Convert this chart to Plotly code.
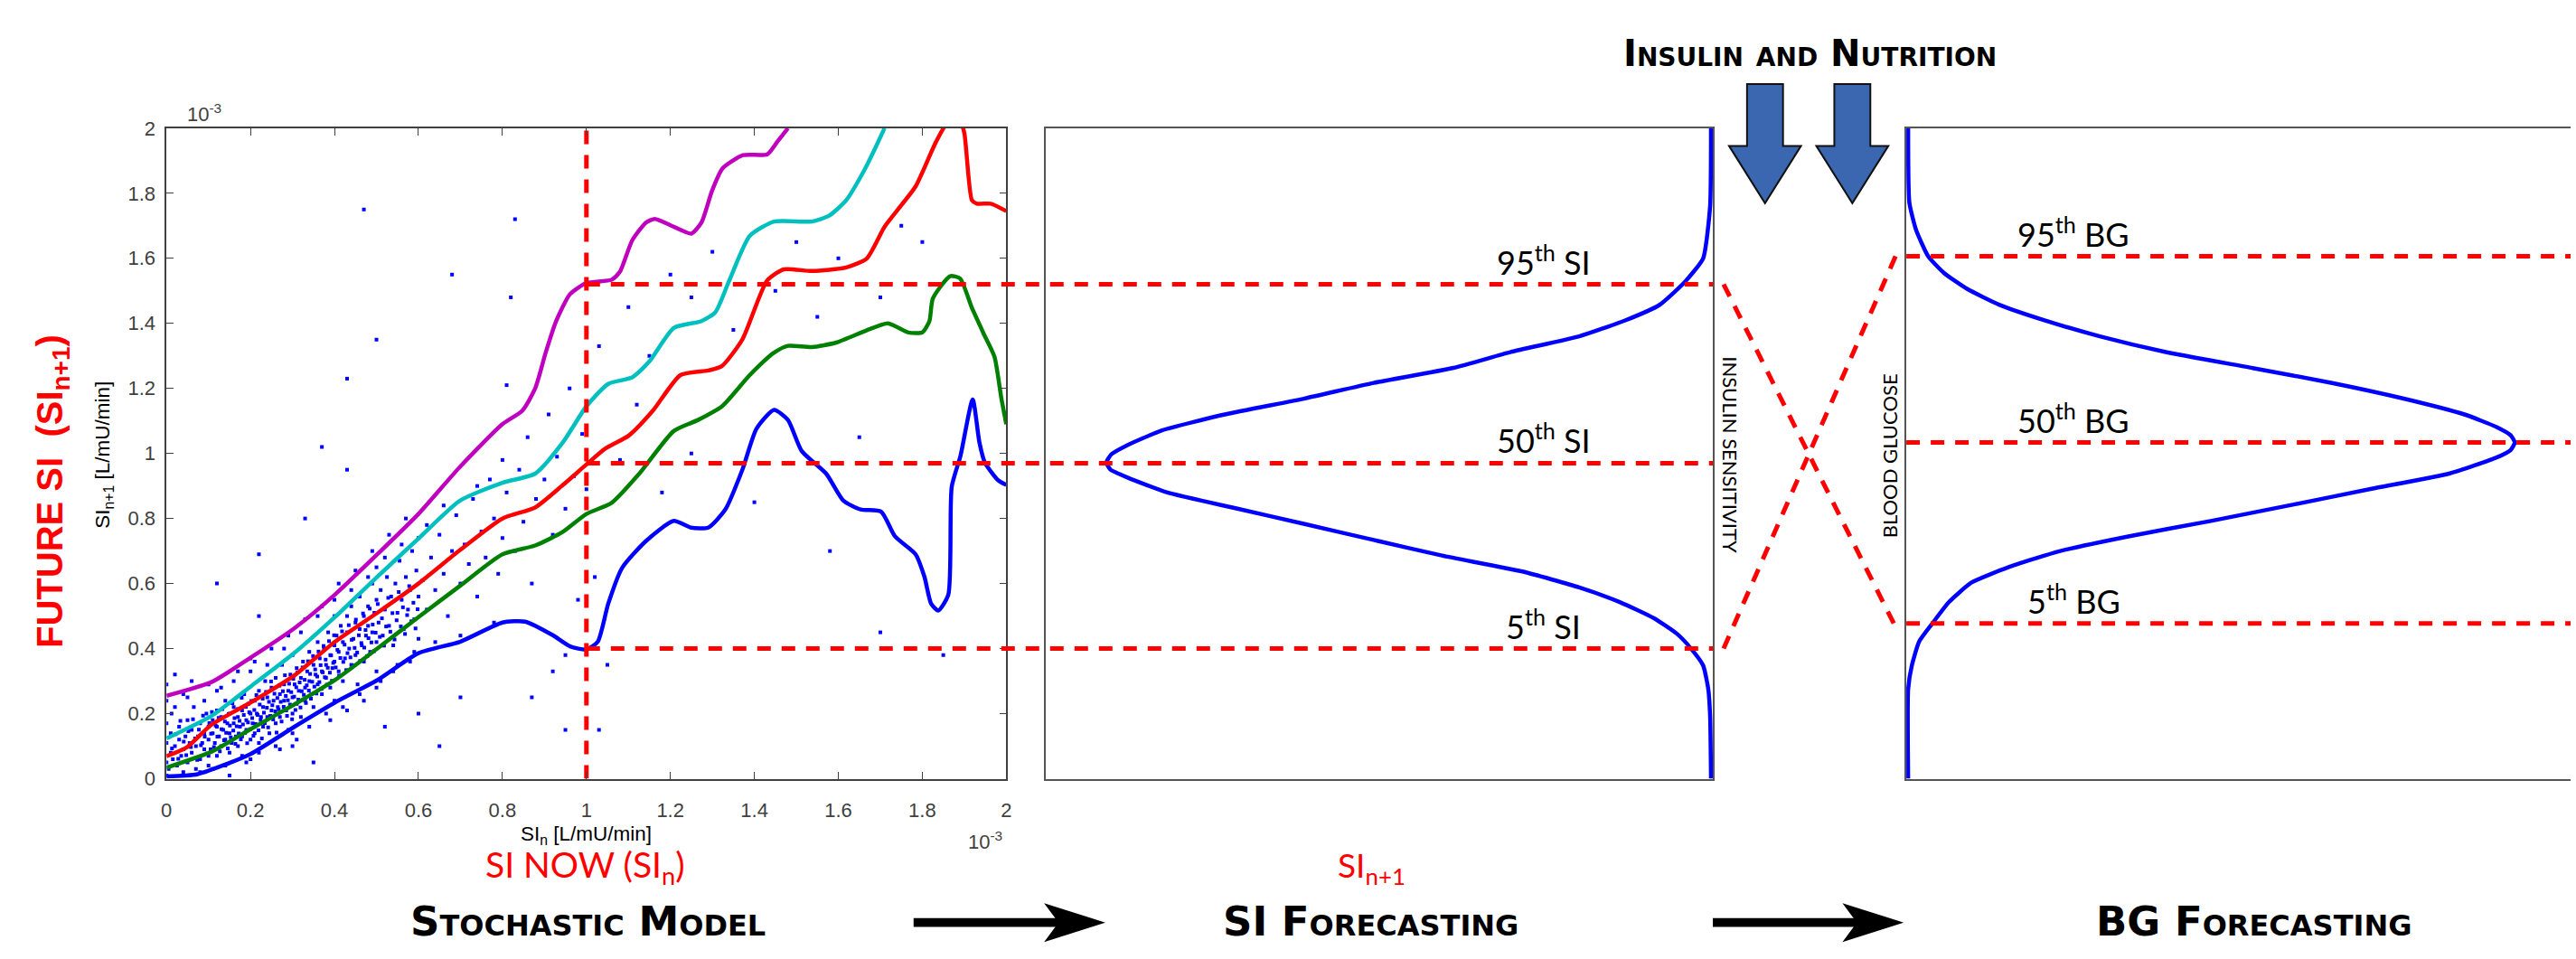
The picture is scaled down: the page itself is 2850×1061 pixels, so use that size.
import plotly.graph_objects as go

W, H = 2850, 1061

# ---------------- data ----------------
tick_vals = [0, 0.2, 0.4, 0.6, 0.8, 1.0, 1.2, 1.4, 1.6, 1.8, 2.0]
tick_text = ["0", "0.2", "0.4", "0.6", "0.8", "1", "1.2", "1.4", "1.6", "1.8", "2"]

# percentile curves of SI_{n+1} vs SI_n (x1e-3 L/mU/min)
p95_x = [0, 0.107, 0.2, 0.304, 0.401, 0.502, 0.6, 0.699, 0.8, 0.847, 0.878, 0.903, 0.928, 0.961, 1.0,
         1.06, 1.08, 1.109, 1.142, 1.163, 1.208, 1.25, 1.274, 1.299, 1.324, 1.373, 1.431, 1.455, 1.48]
p95_y = [0.255, 0.297, 0.372, 0.462, 0.566, 0.69, 0.814, 0.959, 1.09, 1.131, 1.2, 1.31, 1.407, 1.49, 1.524,
         1.534, 1.559, 1.655, 1.71, 1.721, 1.697, 1.676, 1.71, 1.807, 1.876, 1.917, 1.92, 1.959, 2.0]

p75_x = [0, 0.107, 0.2, 0.304, 0.401, 0.502, 0.6, 0.699, 0.8, 0.878, 0.944, 1.0, 1.052, 1.109, 1.15,
         1.208, 1.274, 1.307, 1.34, 1.389, 1.447, 1.537, 1.578, 1.619, 1.661, 1.685, 1.71]
p75_y = [0.124, 0.193, 0.283, 0.386, 0.497, 0.621, 0.738, 0.855, 0.91, 0.938, 1.034, 1.145, 1.214, 1.234, 1.283,
         1.386, 1.407, 1.434, 1.531, 1.669, 1.713, 1.713, 1.731, 1.779, 1.869, 1.931, 2.0]

p50_x = [0, 0.049, 0.107, 0.2, 0.304, 0.401, 0.502, 0.6, 0.699, 0.8, 0.878, 0.944, 1.0, 1.044, 1.101,
         1.158, 1.224, 1.29, 1.323, 1.372, 1.43, 1.47, 1.537, 1.619, 1.668, 1.71, 1.743, 1.784, 1.833,
         1.862, 1.89, 1.9, 1.918, 1.93, 1.963, 2.0]
p50_y = [0.069, 0.097, 0.166, 0.234, 0.317, 0.421, 0.51, 0.6, 0.703, 0.8, 0.834, 0.903, 0.966, 1.014, 1.055,
         1.131, 1.241, 1.255, 1.269, 1.352, 1.531, 1.566, 1.561, 1.572, 1.6, 1.697, 1.752, 1.821, 1.959,
         2.02, 2.02, 1.986, 1.779, 1.768, 1.768, 1.745]

p25_x = [0, 0.107, 0.2, 0.304, 0.401, 0.502, 0.6, 0.699, 0.8, 0.878, 0.944, 1.0, 1.06, 1.126, 1.208,
         1.266, 1.323, 1.389, 1.447, 1.48, 1.537, 1.595, 1.668, 1.718, 1.767, 1.8, 1.817, 1.825, 1.866,
         1.89, 1.918, 1.947, 1.972, 1.988, 2.0]
p25_y = [0.034, 0.083, 0.152, 0.228, 0.303, 0.4, 0.497, 0.593, 0.69, 0.717, 0.759, 0.814, 0.848, 0.938, 1.069,
         1.103, 1.145, 1.241, 1.31, 1.331, 1.327, 1.341, 1.379, 1.4, 1.372, 1.372, 1.407, 1.476, 1.545,
         1.538, 1.448, 1.366, 1.297, 1.172, 1.09]

p5_x = [0, 0.074, 0.2, 0.304, 0.401, 0.502, 0.6, 0.699, 0.8, 0.854, 0.92, 0.961, 1.0, 1.027, 1.052,
        1.085, 1.142, 1.208, 1.249, 1.29, 1.331, 1.372, 1.405, 1.447, 1.48, 1.513, 1.571, 1.612, 1.653,
        1.702, 1.735, 1.784, 1.805, 1.821, 1.838, 1.862, 1.87, 1.891, 1.92, 1.936, 1.949, 1.981, 2.0]
p5_y = [0.007, 0.014, 0.076, 0.159, 0.234, 0.303, 0.386, 0.421, 0.48, 0.483, 0.441, 0.407, 0.397, 0.421, 0.538,
        0.648, 0.731, 0.793, 0.772, 0.772, 0.828, 0.952, 1.076, 1.134, 1.103, 1.007, 0.938, 0.855, 0.828,
        0.821, 0.745, 0.69, 0.621, 0.538, 0.517, 0.566, 0.897, 0.993, 1.166, 1.034, 0.972, 0.917, 0.903]

# observed (SI_n, SI_{n+1}) pairs
obs_points = [
    (0.00, 0.01), (0.00, 0.05), (0.00, 0.11), (0.00, 0.17), (0.00, 0.24), (0.00, 0.29), (0.005, 0.03),
    (0.01, 0.08), (0.01, 0.14), (0.012, 0.2), (0.015, 0.06), (0.02, 0.1), (0.02, 0.32), (0.025, 0.04),
    (0.03, 0.12), (0.03, 0.16), (0.035, 0.07), (0.04, 0.02), (0.04, 0.09), (0.045, 0.13), (0.05, 0.18),
    (0.05, 0.05), (0.055, 0.11), (0.06, 0.08), (0.06, 0.15), (0.065, 0.22), (0.07, 0.1), (0.07, 0.03),
    (0.075, 0.13), (0.08, 0.06), (0.08, 0.17), (0.085, 0.11), (0.09, 0.14), (0.09, 0.09), (0.095, 0.2),
    (0.1, 0.12), (0.1, 0.04), (0.1, 0.16), (0.1, 0.29),
    (0.105, 0.09), (0.11, 0.14), (0.11, 0.18), (0.115, 0.11), (0.12, 0.07), (0.12, 0.16), (0.12, 0.21),
    (0.125, 0.13), (0.13, 0.1), (0.13, 0.19), (0.135, 0.15), (0.14, 0.12), (0.14, 0.24), (0.145, 0.17),
    (0.15, 0.08), (0.15, 0.14), (0.15, 0.2), (0.155, 0.11), (0.16, 0.17), (0.16, 0.22), (0.165, 0.13),
    (0.17, 0.19), (0.17, 0.1), (0.175, 0.16), (0.18, 0.21), (0.18, 0.13), (0.185, 0.26), (0.19, 0.18),
    (0.19, 0.15), (0.195, 0.23), (0.2, 0.12), (0.2, 0.2), (0.2, 0.33), (0.2, 0.06),
    (0.205, 0.17), (0.21, 0.24), (0.21, 0.14), (0.215, 0.2), (0.22, 0.27), (0.22, 0.11), (0.225, 0.19),
    (0.23, 0.22), (0.23, 0.16), (0.235, 0.3), (0.24, 0.25), (0.24, 0.19), (0.245, 0.14), (0.25, 0.21),
    (0.25, 0.28), (0.255, 0.24), (0.26, 0.17), (0.26, 0.31), (0.265, 0.22), (0.27, 0.26), (0.27, 0.19),
    (0.275, 0.35), (0.28, 0.24), (0.28, 0.29), (0.285, 0.21), (0.29, 0.15), (0.29, 0.27), (0.295, 0.32),
    (0.3, 0.25), (0.3, 0.2), (0.3, 0.38), (0.3, 0.1),
    (0.305, 0.29), (0.31, 0.23), (0.31, 0.34), (0.315, 0.27), (0.32, 0.31), (0.32, 0.19), (0.325, 0.36),
    (0.33, 0.28), (0.33, 0.24), (0.335, 0.33), (0.34, 0.39), (0.34, 0.3), (0.345, 0.26), (0.35, 0.35),
    (0.35, 0.22), (0.355, 0.32), (0.36, 0.42), (0.36, 0.29), (0.365, 0.37), (0.37, 0.33), (0.37, 0.26),
    (0.375, 0.4), (0.38, 0.35), (0.38, 0.31), (0.385, 0.45), (0.39, 0.38), (0.39, 0.28), (0.395, 0.34),
    (0.4, 0.41), (0.4, 0.36), (0.4, 0.24), (0.4, 0.5),
    (0.405, 0.44), (0.41, 0.33), (0.41, 0.39), (0.415, 0.47), (0.42, 0.42), (0.42, 0.3), (0.425, 0.37),
    (0.43, 0.5), (0.43, 0.45), (0.435, 0.4), (0.44, 0.35), (0.44, 0.53), (0.445, 0.43), (0.45, 0.48),
    (0.45, 0.38), (0.455, 0.29), (0.46, 0.46), (0.46, 0.56), (0.465, 0.41), (0.47, 0.5), (0.47, 0.36),
    (0.475, 0.44), (0.48, 0.53), (0.48, 0.47), (0.485, 0.39), (0.49, 0.6), (0.49, 0.45), (0.495, 0.51),
    (0.5, 0.42), (0.5, 0.55), (0.5, 0.33), (0.5, 0.65),
    (0.505, 0.48), (0.51, 0.58), (0.515, 0.44), (0.52, 0.52), (0.525, 0.62), (0.53, 0.47), (0.535, 0.56),
    (0.54, 0.41), (0.545, 0.6), (0.55, 0.51), (0.555, 0.67), (0.56, 0.55), (0.565, 0.46), (0.57, 0.62),
    (0.575, 0.52), (0.58, 0.58), (0.585, 0.7), (0.59, 0.49), (0.595, 0.64), (0.6, 0.56), (0.6, 0.43),
    (0.6, 0.74),
    (0.61, 0.61), (0.62, 0.52), (0.63, 0.68), (0.64, 0.58), (0.65, 0.75), (0.66, 0.63), (0.67, 0.5),
    (0.68, 0.7), (0.69, 0.81), (0.7, 0.6), (0.71, 0.72), (0.72, 0.66), (0.73, 0.86), (0.74, 0.56),
    (0.75, 0.76), (0.76, 0.68), (0.77, 0.92), (0.78, 0.8), (0.79, 0.63), (0.8, 0.74), (0.8, 0.98),
    (0.81, 0.88), (0.83, 0.7), (0.84, 0.95), (0.85, 0.79), (0.86, 1.05), (0.87, 0.6), (0.88, 0.86),
    (0.9, 0.92), (0.91, 1.12), (0.92, 0.75), (0.93, 0.99), (0.95, 0.83), (0.96, 1.2), (0.97, 0.93),
    (0.98, 0.55), (0.99, 1.06), (1.0, 0.89),
    (0.47, 1.75), (0.83, 1.72), (0.68, 1.55), (0.82, 1.48), (0.5, 1.35), (0.43, 1.23), (0.81, 1.21),
    (0.37, 1.02), (0.43, 0.95), (0.33, 0.8), (0.22, 0.69), (0.22, 0.5), (0.12, 0.6), (0.15, 0.01),
    (0.35, 0.05), (0.6, 0.2), (0.65, 0.1), (0.52, 0.16), (0.7, 0.25), (0.87, 0.25), (0.95, 0.15),
    (0.92, 0.33), (1.03, 1.33), (1.1, 1.45), (1.15, 1.3), (1.2, 1.55), (1.25, 1.48), (1.3, 1.62),
    (1.35, 1.38), (1.45, 1.5), (1.5, 1.65), (1.55, 1.42), (1.6, 1.6), (1.7, 1.48), (1.75, 1.7),
    (1.8, 1.65), (1.65, 1.05), (1.58, 0.7), (1.08, 0.98), (1.12, 1.15), (1.05, 0.35), (1.03, 0.15),
    (1.18, 0.88), (1.25, 1.0), (1.4, 0.85), (1.7, 0.45), (1.85, 0.38), (0.95, 0.38), (1.02, 0.62),
    # dense core of the cloud
    (0.013, 0.093), (0.022, 0.137), (0.028, 0.061), (0.033, 0.178), (0.041, 0.114), (0.047, 0.072),
    (0.052, 0.146), (0.058, 0.097), (0.063, 0.183), (0.068, 0.124), (0.073, 0.058), (0.077, 0.151),
    (0.082, 0.103), (0.087, 0.194), (0.091, 0.129), (0.096, 0.077), (0.102, 0.171), (0.106, 0.138),
    (0.108, 0.205), (0.113, 0.097), (0.117, 0.163), (0.121, 0.129), (0.124, 0.187), (0.127, 0.084),
    (0.131, 0.152), (0.133, 0.214), (0.137, 0.118), (0.139, 0.176), (0.142, 0.141), (0.146, 0.093),
    (0.148, 0.199), (0.151, 0.163), (0.153, 0.127), (0.157, 0.232), (0.159, 0.148), (0.162, 0.186),
    (0.164, 0.107), (0.167, 0.161), (0.169, 0.214), (0.172, 0.139), (0.174, 0.178), (0.177, 0.121),
    (0.179, 0.249), (0.182, 0.167), (0.184, 0.196), (0.187, 0.141), (0.189, 0.221), (0.192, 0.109),
    (0.194, 0.173), (0.197, 0.204), (0.199, 0.152),
    (0.202, 0.239), (0.204, 0.186), (0.207, 0.132), (0.209, 0.211), (0.212, 0.168), (0.214, 0.257),
    (0.217, 0.196), (0.219, 0.149), (0.222, 0.228), (0.224, 0.181), (0.227, 0.124), (0.229, 0.246),
    (0.232, 0.203), (0.234, 0.171), (0.237, 0.267), (0.239, 0.218), (0.242, 0.158), (0.244, 0.236),
    (0.247, 0.193), (0.249, 0.299), (0.252, 0.226), (0.254, 0.182), (0.257, 0.261), (0.259, 0.207),
    (0.262, 0.142), (0.264, 0.248), (0.267, 0.213), (0.269, 0.286), (0.272, 0.236), (0.274, 0.176),
    (0.277, 0.269), (0.279, 0.221), (0.282, 0.318), (0.284, 0.254), (0.287, 0.193), (0.289, 0.241),
    (0.292, 0.292), (0.294, 0.228), (0.297, 0.266), (0.299, 0.183),
    (0.302, 0.307), (0.304, 0.252), (0.307, 0.211), (0.309, 0.281), (0.312, 0.327), (0.314, 0.243),
    (0.317, 0.296), (0.319, 0.219), (0.322, 0.269), (0.324, 0.342), (0.327, 0.258), (0.329, 0.304),
    (0.332, 0.233), (0.334, 0.287), (0.337, 0.361), (0.339, 0.271), (0.342, 0.322), (0.344, 0.246),
    (0.347, 0.298), (0.349, 0.377), (0.352, 0.283), (0.354, 0.336), (0.357, 0.262), (0.359, 0.314),
    (0.362, 0.391), (0.364, 0.297), (0.367, 0.349), (0.369, 0.276), (0.372, 0.327), (0.374, 0.408),
    (0.377, 0.312), (0.379, 0.366), (0.382, 0.289), (0.384, 0.341), (0.387, 0.423), (0.389, 0.326),
    (0.392, 0.379), (0.394, 0.301), (0.397, 0.356), (0.399, 0.441),
    (0.403, 0.342), (0.407, 0.396), (0.411, 0.317), (0.414, 0.371), (0.418, 0.453), (0.421, 0.359),
    (0.424, 0.412), (0.428, 0.334), (0.431, 0.386), (0.434, 0.472), (0.438, 0.373), (0.441, 0.427),
    (0.444, 0.348), (0.448, 0.402), (0.451, 0.489), (0.454, 0.388), (0.458, 0.441), (0.461, 0.362),
    (0.464, 0.417), (0.468, 0.508), (0.471, 0.403), (0.474, 0.457), (0.478, 0.377), (0.481, 0.432),
    (0.484, 0.523), (0.488, 0.419), (0.491, 0.474), (0.494, 0.392), (0.498, 0.449),
    (0.503, 0.537), (0.508, 0.436), (0.513, 0.493), (0.518, 0.409), (0.523, 0.468), (0.528, 0.556),
    (0.533, 0.452), (0.538, 0.509), (0.543, 0.428), (0.548, 0.487), (0.553, 0.574), (0.558, 0.468),
    (0.563, 0.527), (0.568, 0.445), (0.573, 0.503), (0.578, 0.592), (0.583, 0.484), (0.588, 0.541),
    (0.593, 0.462), (0.598, 0.521),
    # wider spread of the cloud
    (0.02, 0.22), (0.04, 0.26), (0.06, 0.3), (0.08, 0.02), (0.1, 0.07), (0.12, 0.27), (0.14, 0.04),
    (0.16, 0.3), (0.18, 0.07), (0.2, 0.37), (0.22, 0.08), (0.24, 0.35), (0.26, 0.1), (0.28, 0.4),
    (0.3, 0.14), (0.32, 0.45), (0.34, 0.16), (0.36, 0.5), (0.38, 0.2), (0.4, 0.55), (0.42, 0.22),
    (0.44, 0.58), (0.46, 0.26), (0.48, 0.62), (0.5, 0.28), (0.52, 0.68), (0.54, 0.33), (0.56, 0.72),
    (0.58, 0.36), (0.62, 0.78), (0.64, 0.42), (0.66, 0.84), (0.7, 0.44), (0.74, 0.9), (0.78, 0.48),
    (0.05, 0.25), (0.09, 0.24), (0.13, 0.28), (0.17, 0.33), (0.21, 0.36), (0.25, 0.4), (0.29, 0.44),
    (0.33, 0.49), (0.37, 0.53), (0.41, 0.6), (0.45, 0.64), (0.49, 0.7), (0.53, 0.75), (0.57, 0.8),
    (0.11, 0.03), (0.19, 0.05), (0.27, 0.09), (0.31, 0.12), (0.39, 0.18), (0.43, 0.21), (0.47, 0.24),
    (0.51, 0.3), (0.55, 0.35), (0.59, 0.39),
]
obs_x = [p[0] for p in obs_points]
obs_y = [p[1] for p in obs_points]

si_now = 1.0
si_pct_names = ["95<sup>th</sup> SI", "50<sup>th</sup> SI", "5<sup>th</sup> SI"]
si_pct_vals = [1.52, 0.97, 0.40]

# forecast SI_{n+1} distribution (normalised density)
si_dist_si = [0.0, 0.194, 0.275, 0.348, 0.40, 0.445, 0.494, 0.543, 0.588, 0.637, 0.686, 0.734, 0.783,
              0.831, 0.880, 0.926, 0.950, 0.972, 0.997, 1.023, 1.071, 1.120, 1.169, 1.217, 1.263, 1.312,
              1.360, 1.409, 1.457, 1.528, 1.60, 1.76, 2.0]
si_dist_d = [0.0, 0.0015, 0.0045, 0.013, 0.033, 0.056, 0.095, 0.151, 0.218, 0.312, 0.445, 0.558, 0.672,
             0.785, 0.899, 0.965, 0.993, 1.0, 0.992, 0.968, 0.908, 0.804, 0.672, 0.558, 0.426, 0.331,
             0.218, 0.142, 0.085, 0.043, 0.013, 0.0015, 0.0]

# forecast blood glucose distribution (mmol/L, normalised density)
bg_pct_names = ["95<sup>th</sup> BG", "50<sup>th</sup> BG", "5<sup>th</sup> BG"]
bg_pct_vals = [12.85, 8.27, 3.82]
bg_dist_bg = [0.0, 2.2, 2.78, 3.37, 3.82, 4.34, 4.82, 5.2, 5.59, 5.96, 6.34, 6.74, 7.13, 7.51, 7.9, 8.08,
              8.27, 8.45, 8.65, 8.96, 9.35, 9.74, 10.1, 10.5, 10.88, 11.27, 11.66, 12.05, 12.44, 12.85, 13.5,
              14.17, 16.0]
bg_dist_d = [0.0, 0.0, 0.006, 0.018, 0.04, 0.067, 0.104, 0.165, 0.248, 0.363, 0.499, 0.634, 0.764, 0.893,
             0.97, 0.993, 1.0, 0.993, 0.97, 0.917, 0.817, 0.697, 0.568, 0.423, 0.316, 0.226, 0.15, 0.097,
             0.059, 0.033, 0.013, 0.002, 0.0]

SI_RANGE = [0, 2.0]
BG_RANGE = [0, 16.0]

# ---------------- layout geometry (pixels) ----------------
def px(x):
    return x / W


def py(y):
    return 1 - y / H


L_PX = (179, 1112)
M_PX = (1156, 1897)
R_PX = (2112, W)
Y_PX = (870, 133)
Y_DOM = [py(Y_PX[0]), py(Y_PX[1])]

RED = "#FF0000"
BLUE = "#0000FF"
AXC = "#404040"
DASH = "15px,12px"
CAL = "Lato, 'Open Sans', sans-serif"
WIDE = "'DejaVu Sans', 'Open Sans', sans-serif"
ARI = "'Liberation Sans', Arial, sans-serif"

fig = go.Figure()

# left: stochastic model
fig.add_trace(go.Scatter(x=obs_x, y=obs_y, mode="markers", xaxis="x", yaxis="y",
                         marker=dict(color=BLUE, size=4, symbol="square"), hoverinfo="skip"))
for xs, ys, col in [(p5_x, p5_y, "#0000FF"), (p25_x, p25_y, "#008000"), (p50_x, p50_y, "#FF0000"),
                    (p75_x, p75_y, "#00BFBF"), (p95_x, p95_y, "#BF00BF")]:
    fig.add_trace(go.Scatter(x=xs, y=ys, mode="lines", xaxis="x", yaxis="y",
                             line=dict(color=col, width=4.5, shape="spline", smoothing=0.6)))
fig.add_trace(go.Scatter(x=[si_now, si_now], y=SI_RANGE, mode="lines", xaxis="x", yaxis="y",
                         line=dict(color=RED, width=5, dash=DASH)))

# middle: SI forecast distribution
fig.add_trace(go.Scatter(x=si_dist_d, y=si_dist_si, mode="lines", xaxis="x2", yaxis="y2",
                         line=dict(color=BLUE, width=4.5, shape="spline", smoothing=0.5)))
# right: BG forecast distribution
fig.add_trace(go.Scatter(x=bg_dist_d, y=bg_dist_bg, mode="lines", xaxis="x3", yaxis="y3",
                         line=dict(color=BLUE, width=4.5, shape="spline", smoothing=0.5)))

# overlay: connecting dashed lines (x in pixels, y in SI units)
si_now_px = L_PX[0] + (si_now - SI_RANGE[0]) / (SI_RANGE[1] - SI_RANGE[0]) * (L_PX[1] - L_PX[0])


def bg_to_si(v):
    return SI_RANGE[0] + (v - BG_RANGE[0]) / (BG_RANGE[1] - BG_RANGE[0]) * (SI_RANGE[1] - SI_RANGE[0])


for v in si_pct_vals:
    fig.add_trace(go.Scatter(x=[si_now_px, M_PX[1]], y=[v, v], mode="lines", xaxis="x4", yaxis="y4",
                             line=dict(color=RED, width=5, dash=DASH)))
for v in bg_pct_vals:
    fig.add_trace(go.Scatter(x=[R_PX[0], R_PX[1]], y=[bg_to_si(v)] * 2, mode="lines", xaxis="x4", yaxis="y4",
                             line=dict(color=RED, width=5, dash=DASH)))
fig.add_trace(go.Scatter(x=[M_PX[1] + 12, R_PX[0] - 14], y=[si_pct_vals[0], bg_to_si(bg_pct_vals[2])],
                         mode="lines", xaxis="x4", yaxis="y4", line=dict(color=RED, width=5, dash=DASH)))
fig.add_trace(go.Scatter(x=[M_PX[1] + 12, R_PX[0] - 12], y=[si_pct_vals[2], bg_to_si(bg_pct_vals[0])],
                         mode="lines", xaxis="x4", yaxis="y4", line=dict(color=RED, width=5, dash=DASH)))

# ---------------- annotations ----------------
ann = []


def txt(text, x, y, size, color="black", family=CAL, angle=0, xanchor="center", yanchor="middle",
        weight="normal", variant="normal", **kw):
    d = dict(text=text, x=px(x), y=py(y), xref="paper", yref="paper", showarrow=False,
             font=dict(size=size, color=color, family=family, weight=weight, variant=variant),
             textangle=angle, xanchor=xanchor, yanchor=yanchor)
    d.update(kw)
    ann.append(d)


txt("10<sup>-3</sup>", 200, 116, 22, AXC, ARI, xanchor="left")
txt("10<sup>-3</sup>", 1089, 940, 22, AXC, ARI)
txt("SI<sub>n</sub> [L/mU/min]", 645, 934, 22.5, "black", ARI)
txt("SI<sub>n+1</sub> [L/mU/min]", 110, 503, 22.5, "black", ARI, angle=-90)
txt("FUTURE SI  (SI<sub>n+1</sub>)", 52, 544, 40, RED, ARI, angle=-90, weight="bold")
txt("SI NOW (SI<sub>n</sub>)", 644, 970, 39, RED)
txt("SI<sub>n+1</sub>", 1518, 970, 37, RED)
txt("Stochastic Model", 647, 1032, 45, family=WIDE, weight="bold", variant="small-caps")
txt("SI Forecasting", 1517, 1032, 45, family=WIDE, weight="bold", variant="small-caps")
txt("BG Forecasting", 2498, 1032, 45, family=WIDE, weight="bold", variant="small-caps")
txt("Insulin and Nutrition", 2005, 48, 40, family=WIDE, weight="bold", variant="small-caps")
txt("INSULIN SENSITIVITY", 1917, 503, 22, angle=90)
txt("BLOOD GLUCOSE", 2093, 504, 22, angle=-90)

for name, v in zip(si_pct_names, si_pct_vals):
    ann.append(dict(text=name, x=px(1709), xref="paper", y=v, yref="y4", yshift=27, showarrow=False,
                    font=dict(size=36, color="black", family=CAL), xanchor="center", yanchor="middle"))
for name, v in zip(bg_pct_names, bg_pct_vals):
    ann.append(dict(text=name, x=px(2298), xref="paper", y=bg_to_si(v), yref="y4", yshift=27,
                    showarrow=False, font=dict(size=36, color="black", family=CAL),
                    xanchor="center", yanchor="middle"))

# ---------------- decorative shapes ----------------
def path(points):
    return "M " + " L ".join(f"{px(x):.5f},{py(y):.5f}" for x, y in points) + " Z"


shapes = []
for cx in (1955, 2052):
    pts = [(cx - 20, 83), (cx + 20, 83), (cx + 20, 153), (cx + 40, 153), (cx, 218), (cx - 40, 153),
           (cx - 20, 153)]
    shapes.append(dict(type="path", path=path(pts), xref="paper", yref="paper",
                       fillcolor="#3A67B0", line=dict(color="#111111", width=2)))
for x0, x1 in ((1009, 1222), (1897, 2109)):
    yc = 1033
    shaft = [(x0, yc - 5), (x1 - 50, yc - 5), (x1 - 50, yc + 5), (x0, yc + 5)]
    head = [(x1, yc), (x1 - 68, yc - 22), (x1 - 52, yc), (x1 - 68, yc + 22)]
    for pts in (shaft, head):
        shapes.append(dict(type="path", path=path(pts), xref="paper", yref="paper",
                           fillcolor="black", line=dict(color="black", width=0)))

# ---------------- axes ----------------
left_common = dict(showgrid=False, zeroline=False, showline=True, linecolor=AXC, linewidth=1.5,
                   mirror="ticks", ticks="inside", ticklen=8, tickwidth=1.2, tickcolor=AXC,
                   tickvals=tick_vals, ticktext=tick_text, range=SI_RANGE,
                   tickfont=dict(family=ARI, size=22, color=AXC))
box = dict(showgrid=False, zeroline=False, showline=True, linecolor="#555555", linewidth=1.5,
           ticks="", showticklabels=False)

fig.update_layout(
    width=W, height=H, autosize=False, showlegend=False,
    margin=dict(l=0, r=0, t=0, b=0, pad=0),
    paper_bgcolor="white", plot_bgcolor="rgba(0,0,0,0)",
    xaxis=dict(domain=[px(L_PX[0]), px(L_PX[1])], anchor="y", ticklabelstandoff=14, **left_common),
    yaxis=dict(domain=Y_DOM, anchor="x", ticklabelstandoff=6, **left_common),
    xaxis2=dict(domain=[px(M_PX[0]), px(M_PX[1])], anchor="y2", range=[1.1, -0.003], mirror=True, **box),
    yaxis2=dict(domain=Y_DOM, anchor="x2", range=SI_RANGE, mirror=True, **box),
    xaxis3=dict(domain=[px(R_PX[0]), 1.0], anchor="y3", range=[-0.003, 1.092], mirror=True, **box),
    yaxis3=dict(domain=Y_DOM, anchor="x3", range=BG_RANGE, mirror=False, **box),
    xaxis4=dict(domain=[0, 1], anchor="y4", range=[0, W], visible=False),
    yaxis4=dict(domain=Y_DOM, anchor="x4", range=SI_RANGE, visible=False),
    annotations=ann,
    shapes=shapes,
)

fig.write_html("out.html", config={"displayModeBar": False},
               post_script="document.body.style.margin='0';document.body.style.overflow='hidden';")
